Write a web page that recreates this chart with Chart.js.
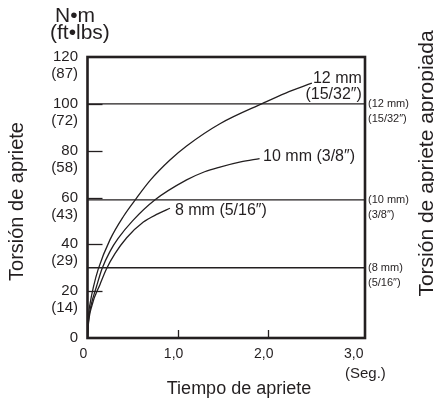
<!DOCTYPE html>
<html><head><meta charset="utf-8">
<script src="https://cdn.jsdelivr.net/npm/chart.js@4.4.1/dist/chart.umd.min.js"></script>
<style>html,body{margin:0;padding:0;background:#fff}#wrap{width:434px;height:399px;position:relative}</style>
</head><body><div id="wrap"><canvas id="c" width="434" height="399"></canvas></div>
<script>
// ---- data ----
const timeSec12 = [0, 0.01, 0.03, 0.064, 0.12, 0.25, 0.4, 0.53, 0.7, 0.915, 1.10, 1.47, 1.95, 2.2, 2.49];
const torque12  = [0, 9, 15, 21.5, 29.5, 42, 52, 59, 67.5, 76, 82, 91.5, 100.3, 104.6, 108.8];
const timeSec10 = [0, 0.01, 0.04, 0.10, 0.16, 0.25, 0.34, 0.5, 0.75, 1.1, 1.3, 1.47, 1.7, 1.91];
const torque10  = [0, 7, 14, 22, 29.5, 37, 42.5, 50, 59, 67.5, 71, 73, 75.2, 76.6];
const timeSec8  = [0, 0.01, 0.05, 0.14, 0.21, 0.305, 0.435, 0.62, 0.78, 0.915];
const torque8   = [0, 6, 14, 23, 29.5, 36, 42.8, 49.5, 53, 55.4];
const curveLabels = [['12 mm', '(15/32″)'], ['10 mm (3/8″)'], ['8 mm (5/16″)']];
const recommendedTorque = [100, 59, 30];
const recommendedLabels = [['(12 mm)', '(15/32″)'], ['(10 mm)', '(3/8″)'], ['(8 mm)', '(5/16″)']];
const yTickValues = [0, 20, 40, 60, 80, 100, 120];
const yTickLbs    = ['', '(14)', '(29)', '(43)', '(58)', '(72)', '(87)'];
const xTickValues = [0, 1, 2, 3];
const xTickLabels = ['0', '1,0', '2,0', '3,0'];
const xUnit = '(Seg.)';
const yUnit = ['N•m', '(ft•lbs)'];
const xTitle = 'Tiempo de apriete';
const yTitle = 'Torsión de apriete';
const y2Title = 'Torsión de apriete apropiada';
const X_MAX = 3.08, Y_MAX = 120;

const INK = '#231f20';
const FONT = '"Liberation Sans", Arial, Helvetica, sans-serif';

function pts(t, v) { return t.map((tt, i) => ({ x: tt, y: v[i] })); }

const curveStyle = { borderColor: INK, borderWidth: 1.3, pointRadius: 0, fill: false, cubicInterpolationMode: 'monotone' };
const datasets = [
  Object.assign({ label: '12 mm', data: pts(timeSec12, torque12) }, curveStyle),
  Object.assign({ label: '10 mm', data: pts(timeSec10, torque10) }, curveStyle),
  Object.assign({ label: '8 mm', data: pts(timeSec8, torque8) }, curveStyle),
];
recommendedTorque.forEach((lvl, i) => {
  datasets.push({ label: 'ref' + i, data: [{ x: 0, y: lvl }, { x: X_MAX, y: lvl }], borderColor: INK, borderWidth: 1.3, pointRadius: 0, fill: false });
});

const deco = {
  id: 'deco',
  afterDraw(chart) {
    const { ctx, chartArea: a, scales: { x, y } } = chart;
    ctx.save();
    ctx.strokeStyle = INK; ctx.fillStyle = INK;
    // inner tick marks
    ctx.lineWidth = 1.3;
    yTickValues.forEach(v => {
      if (v <= 0 || v >= Y_MAX) return;
      const py = Math.round(y.getPixelForValue(v)) + 0.5;
      ctx.beginPath(); ctx.moveTo(a.left, py); ctx.lineTo(a.left + 15, py); ctx.stroke();
    });
    xTickValues.forEach(v => {
      if (v <= 0 || v >= 3) return;
      const px = Math.round(x.getPixelForValue(v)) + 0.5;
      ctx.beginPath(); ctx.moveTo(px, a.bottom); ctx.lineTo(px, a.bottom - 8); ctx.stroke();
    });
    // frame
    ctx.lineWidth = 2.6;
    ctx.strokeRect(a.left, a.top, a.right - a.left, a.bottom - a.top);

    // secondary (ft-lbs) tick labels
    ctx.font = '15px ' + FONT; ctx.textAlign = 'right'; ctx.textBaseline = 'middle';
    yTickValues.forEach((v, i) => {
      if (!yTickLbs[i]) return;
      ctx.fillText(yTickLbs[i], 78, y.getPixelForValue(v) + 17);
    });
    // x unit
    ctx.textAlign = 'left';
    ctx.fillText(xUnit, 345, 374);
    // y units
    ctx.font = '21px ' + FONT; ctx.textBaseline = 'alphabetic';
    ctx.fillText(yUnit[0], 55, 22);
    ctx.fillText(yUnit[1], 50, 39);
    // x title
    ctx.font = '18px ' + FONT; ctx.textAlign = 'center';
    ctx.fillText(xTitle, 239, 394);
    // left title
    ctx.save(); ctx.translate(17.5, 201.5); ctx.rotate(-Math.PI / 2);
    ctx.font = '20px ' + FONT; ctx.textBaseline = 'middle';
    ctx.fillText(yTitle, 0, 0); ctx.restore();
    // right title
    ctx.save(); ctx.translate(427.5, 163.5); ctx.rotate(-Math.PI / 2);
    ctx.font = '21px ' + FONT; ctx.textBaseline = 'middle'; ctx.textAlign = 'center';
    ctx.fillText(y2Title, 0, 0); ctx.restore();

    // curve end labels
    ctx.font = '16px ' + FONT; ctx.textBaseline = 'middle';
    const ends = [0, 1, 2].map(i => {
      const d = chart.data.datasets[i].data; const p = d[d.length - 1];
      return { px: x.getPixelForValue(p.x), py: y.getPixelForValue(p.y) };
    });
    ctx.textAlign = 'right';
    ctx.fillText(curveLabels[0][0], ends[0].px + 50, ends[0].py - 5);
    ctx.fillText(curveLabels[0][1], ends[0].px + 50, ends[0].py + 11);
    ctx.textAlign = 'left';
    ctx.fillText(curveLabels[1][0], ends[1].px + 3.5, ends[1].py - 2);
    ctx.fillText(curveLabels[2][0], ends[2].px + 5, ends[2].py + 2.6);

    // recommended-torque labels at right
    ctx.font = '11px ' + FONT; ctx.textAlign = 'left';
    recommendedTorque.forEach((lvl, i) => {
      const py = y.getPixelForValue(lvl);
      ctx.fillText(recommendedLabels[i][0], a.right + 3, py + 0.5);
      ctx.fillText(recommendedLabels[i][1], a.right + 3, py + 15.5);
    });
    ctx.restore();
  }
};

new Chart(document.getElementById('c'), {
  type: 'line',
  data: { datasets },
  options: {
    responsive: false, animation: false, devicePixelRatio: 1,
    layout: { padding: { top: 57, right: 69, bottom: 0, left: 0 } },
    plugins: { legend: { display: false }, tooltip: { enabled: false } },
    scales: {
      x: {
        type: 'linear', min: 0, max: X_MAX,
        afterBuildTicks: s => { s.ticks = xTickValues.map(v => ({ value: v })); },
        afterFit: s => { s.height = 61; },
        grid: { display: false, drawTicks: false }, border: { display: false },
        ticks: {
          color: INK, font: { family: FONT, size: 14 }, padding: 8, labelOffset: -4,
          maxRotation: 0, autoSkip: false,
          callback: v => xTickLabels[xTickValues.indexOf(v)]
        }
      },
      y: {
        type: 'linear', min: 0, max: Y_MAX,
        afterBuildTicks: s => { s.ticks = yTickValues.map(v => ({ value: v })); },
        afterFit: s => { s.width = 87.5; },
        grid: { display: false, drawTicks: false }, border: { display: false },
        ticks: { color: INK, font: { family: FONT, size: 15 }, padding: 9.5, callback: v => String(v) }
      }
    }
  },
  plugins: [deco]
});
</script></body></html>
